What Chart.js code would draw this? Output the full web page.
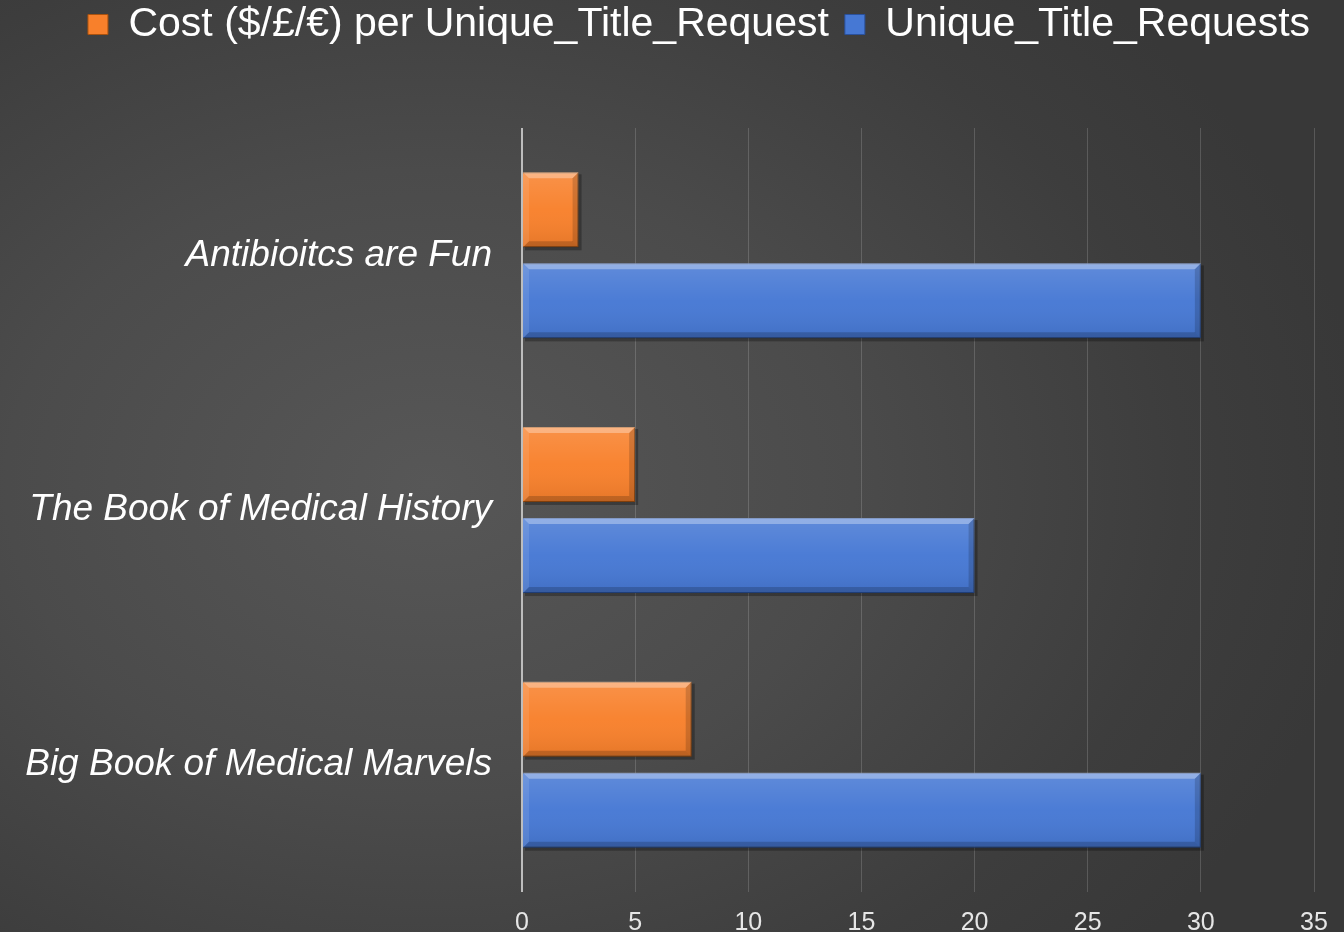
<!DOCTYPE html>
<html lang="en">

<head>
    <meta charset="UTF-8">
    <title>Title Requests</title>
    <script src="https://cdn.jsdelivr.net/npm/chart.js"></script>
    <style>
        html, body {
            margin: 0;
            width: 1344px;
            height: 932px;
            overflow: hidden;
        }

        body {
            background: radial-gradient(ellipse 70% 75% at 32% 52%, #575757 0%, #4b4b4b 45%, #3d3d3d 80%, #383838 100%);
            font-family: "Liberation Sans", Arial, sans-serif;
        }

        .chart-box {
            position: absolute;
            left: 0;
            top: 0;
            width: 1344px;
            height: 932px;
        }
    </style>
</head>

<body>
    <div class="chart-box">
        <canvas id="grafico"></canvas>
    </div>

    <script>
        const titulos = ['Antibioitcs are Fun', 'The Book of Medical History', 'Big Book of Medical Marvels'];
        const custo = [2.5, 5, 7.5];
        const pedidos = [30, 20, 30];
        const nomesSeries = ['Cost ($/£/€) per Unique_Title_Request', 'Unique_Title_Requests'];
        const ticksX = [0, 5, 10, 15, 20, 25, 30, 35];

        function caixaBarra(bar) {
            const p = bar.getProps(['x', 'y', 'base', 'height'], true);
            return {
                l: Math.min(p.base, p.x), r: Math.max(p.base, p.x),
                t: p.y - p.height / 2, b: p.y + p.height / 2
            };
        }

        // bevel look on each bar (lighter top/left, darker bottom/right) + small shadow
        const bevel = {
            id: 'bevel',
            beforeDatasetsDraw(chart) {
                const c = chart.ctx;
                c.save();
                c.fillStyle = 'rgba(0,0,0,0.28)';
                chart.data.datasets.forEach((ds, i) => {
                    chart.getDatasetMeta(i).data.forEach(bar => {
                        const k = caixaBarra(bar);
                        c.fillRect(k.l + 2, k.t + 2, k.r - k.l + 1, k.b - k.t + 1);
                    });
                });
                c.restore();
            },
            afterDatasetsDraw(chart) {
                const c = chart.ctx;
                chart.data.datasets.forEach((ds, i) => {
                    chart.getDatasetMeta(i).data.forEach(bar => {
                        const { l, r, t, b } = caixaBarra(bar);
                        const e = 6;
                        c.save();
                        const g = c.createLinearGradient(0, t, 0, b);
                        g.addColorStop(0, 'rgba(255,255,255,0.14)');
                        g.addColorStop(0.5, 'rgba(255,255,255,0.03)');
                        g.addColorStop(1, 'rgba(0,0,0,0.08)');
                        c.fillStyle = g;
                        c.fillRect(l, t, r - l, b - t);
                        // top
                        c.fillStyle = 'rgba(255,255,255,0.32)';
                        c.beginPath();
                        c.moveTo(l, t); c.lineTo(r, t); c.lineTo(r - e, t + e); c.lineTo(l + e, t + e);
                        c.fill();
                        // left
                        c.fillStyle = 'rgba(255,255,255,0.10)';
                        c.beginPath();
                        c.moveTo(l, t); c.lineTo(l + e, t + e); c.lineTo(l + e, b - e); c.lineTo(l, b);
                        c.fill();
                        // bottom
                        c.fillStyle = 'rgba(0,0,0,0.18)';
                        c.beginPath();
                        c.moveTo(l, b); c.lineTo(l + e, b - e); c.lineTo(r - e, b - e); c.lineTo(r, b);
                        c.fill();
                        // right
                        c.fillStyle = 'rgba(0,0,0,0.16)';
                        c.beginPath();
                        c.moveTo(r, t); c.lineTo(r, b); c.lineTo(r - e, b - e); c.lineTo(r - e, t + e);
                        c.fill();
                        c.restore();
                    });
                });
            }
        };

        // taller legend so the plot starts lower, then nudge it into place
        const legendAltura = {
            id: 'legendAltura',
            beforeInit(chart) {
                const fitOriginal = chart.legend.fit;
                chart.legend.fit = function () {
                    fitOriginal.bind(chart.legend)();
                    this.height = 128;
                };
            },
            afterLayout(chart) {
                const lg = chart.legend;
                lg.left += 42;
                lg.right += 42;
                lg.top -= 12;
            }
        };

        const ctx = document.getElementById('grafico').getContext('2d');
        const chart = new Chart(ctx, {
            type: 'bar',
            data: {
                labels: titulos,
                datasets: [
                    {
                        label: nomesSeries[0],
                        data: custo,
                        backgroundColor: '#F8802B',
                        borderColor: '#A9520F',
                        borderWidth: 1
                    },
                    {
                        label: nomesSeries[1],
                        data: pedidos,
                        backgroundColor: '#4678D4',
                        borderColor: '#2A519C',
                        borderWidth: 1
                    }
                ]
            },
            options: {
                indexAxis: 'y',
                responsive: true,
                maintainAspectRatio: false,
                animation: false,
                layout: { padding: { right: 30 } },
                datasets: {
                    bar: { categoryPercentage: 0.715, barPercentage: 0.824 }
                },
                scales: {
                    x: {
                        min: 0,
                        max: 35,
                        afterBuildTicks(scale) {
                            scale.ticks = ticksX.map(v => ({ value: v }));
                        },
                        afterFit(scale) {
                            scale.height = 40;
                        },
                        border: { display: false },
                        grid: {
                            drawTicks: false,
                            color: c => c.tick && c.tick.value === 0 ? '#bdbdbd' : 'rgba(255,255,255,0.16)',
                            lineWidth: c => c.tick && c.tick.value === 0 ? 2 : 1
                        },
                        ticks: {
                            color: '#e6e6e6',
                            padding: 16,
                            maxRotation: 0,
                            font: { family: 'Liberation Sans', size: 25 }
                        }
                    },
                    y: {
                        border: { display: false },
                        grid: { display: false, drawTicks: false },
                        afterFit(scale) {
                            scale.width = 522;
                            scale.paddingTop = 0;
                            scale.paddingBottom = 0;
                        },
                        ticks: {
                            color: '#ffffff',
                            padding: 30,
                            font: { family: 'Liberation Sans', size: 37, style: 'italic' }
                        }
                    }
                },
                plugins: {
                    legend: {
                        position: 'top',
                        labels: {
                            color: '#ffffff',
                            boxWidth: 20,
                            boxHeight: 20,
                            padding: 16,
                            font: { family: 'Liberation Sans', size: 41 }
                        }
                    },
                    tooltip: { enabled: false }
                }
            },
            plugins: [bevel, legendAltura]
        });
    </script>
</body>

</html>
